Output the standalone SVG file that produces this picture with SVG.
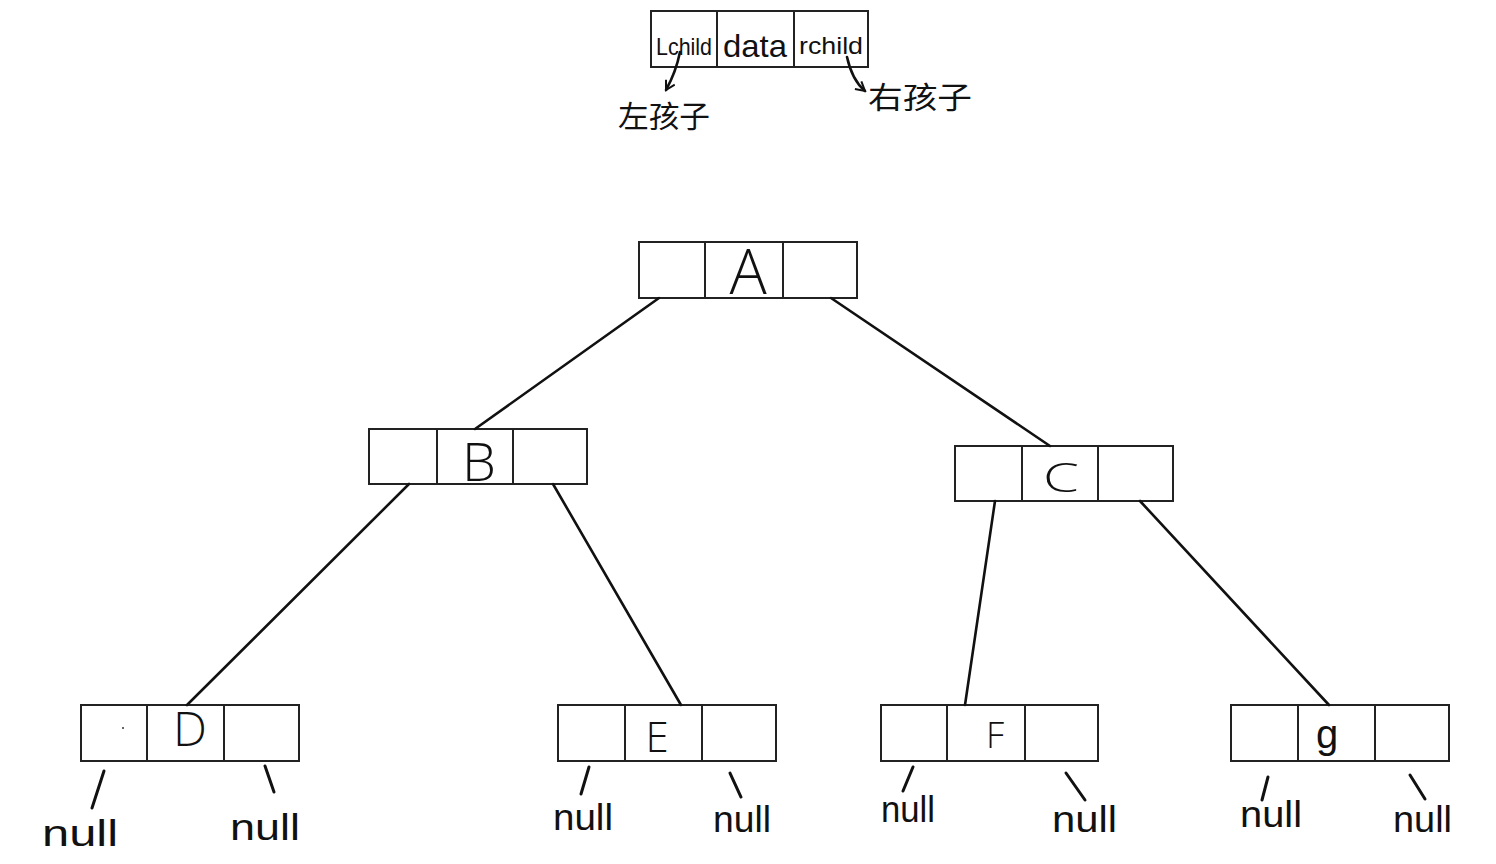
<svg xmlns="http://www.w3.org/2000/svg" width="1496" height="864" viewBox="0 0 1496 864">
<defs>
<style>
.box{fill:#fff;stroke:#222;stroke-width:2}
.div{stroke:#222;stroke-width:2}
.edge{stroke:#111;stroke-width:2.6;fill:none;stroke-linecap:round}
.stub{stroke:#111;stroke-width:3;fill:none;stroke-linecap:round}
.lbl{font-family:"Liberation Sans",sans-serif;fill:#111;text-anchor:middle}
.big{font-family:"Open Sans","Liberation Sans",sans-serif;font-weight:300;fill:#111;text-anchor:middle}
.nul{font-family:"Liberation Sans",sans-serif;fill:#111;font-size:36px}
.cn{font-family:"Noto Sans CJK SC",sans-serif;fill:#111;font-size:30px}
</style>
<marker id="ah" viewBox="0 0 12 12" refX="10" refY="6" markerWidth="12" markerHeight="12" markerUnits="userSpaceOnUse" orient="auto">
<path d="M1,1 L10,6 L1,11" fill="none" stroke="#111" stroke-width="2"/>
</marker>
</defs>
<rect width="1496" height="864" fill="#fff"/>

<g id="legend">
<rect class="box" x="651" y="11" width="217" height="56"/>
<line class="div" x1="717" y1="11" x2="717" y2="67"/>
<line class="div" x1="794" y1="11" x2="794" y2="67"/>
<text class="lbl" x="684" y="55" font-size="24" textLength="56" lengthAdjust="spacingAndGlyphs">Lchild</text>
<text class="lbl" x="755" y="57" font-size="32" textLength="64" lengthAdjust="spacingAndGlyphs">data</text>
<text class="lbl" x="831" y="54" font-size="24" textLength="64" lengthAdjust="spacingAndGlyphs">rchild</text>
<text class="cn" x="618" y="127" textLength="92" lengthAdjust="spacingAndGlyphs">左孩子</text>
<text class="cn" x="868" y="108" font-size="32" textLength="104" lengthAdjust="spacingAndGlyphs">右孩子</text>
</g>

<g id="A">
<rect class="box" x="639" y="242" width="218" height="56"/>
<line class="div" x1="705" y1="242" x2="705" y2="298"/>
<line class="div" x1="783" y1="242" x2="783" y2="298"/>
<text class="big" x="748" y="294" font-size="62">A</text>
</g>
<g id="B">
<rect class="box" x="369" y="429" width="218" height="55"/>
<line class="div" x1="437" y1="429" x2="437" y2="484"/>
<line class="div" x1="513" y1="429" x2="513" y2="484"/>
<text class="big" x="479" y="481" font-size="54">B</text>
</g>
<g id="C">
<rect class="box" x="955" y="446" width="218" height="55"/>
<line class="div" x1="1022" y1="446" x2="1022" y2="501"/>
<line class="div" x1="1098" y1="446" x2="1098" y2="501"/>
<text class="big" x="1061" y="492" font-size="40" textLength="36" lengthAdjust="spacingAndGlyphs">C</text>
</g>
<g id="D">
<rect class="box" x="81" y="705" width="218" height="56"/>
<line class="div" x1="147" y1="705" x2="147" y2="761"/>
<line class="div" x1="224" y1="705" x2="224" y2="761"/>
<circle cx="123" cy="728" r="1" fill="#333"/>
<text class="big" x="190" y="746" font-size="48">D</text>
</g>
<g id="E">
<rect class="box" x="558" y="705" width="218" height="56"/>
<line class="div" x1="625" y1="705" x2="625" y2="761"/>
<line class="div" x1="702" y1="705" x2="702" y2="761"/>
<text class="big" x="657" y="752" font-size="42">E</text>
</g>
<g id="F">
<rect class="box" x="881" y="705" width="217" height="56"/>
<line class="div" x1="947" y1="705" x2="947" y2="761"/>
<line class="div" x1="1025" y1="705" x2="1025" y2="761"/>
<text class="big" x="995" y="748" font-size="36">F</text>
</g>
<g id="G">
<rect class="box" x="1231" y="705" width="218" height="56"/>
<line class="div" x1="1298" y1="705" x2="1298" y2="761"/>
<line class="div" x1="1375" y1="705" x2="1375" y2="761"/>
<text class="lbl" x="1327" y="748" font-size="40">g</text>
</g>

<g id="nulls">
<text class="nul" x="42" y="846" textLength="76" lengthAdjust="spacingAndGlyphs">null</text>
<text class="nul" x="230" y="840" textLength="70" lengthAdjust="spacingAndGlyphs">null</text>
<text class="nul" x="553" y="830" textLength="60" lengthAdjust="spacingAndGlyphs">null</text>
<text class="nul" x="713" y="832" textLength="58" lengthAdjust="spacingAndGlyphs">null</text>
<text class="nul" x="881" y="822" textLength="54" lengthAdjust="spacingAndGlyphs">null</text>
<text class="nul" x="1052" y="832" textLength="65" lengthAdjust="spacingAndGlyphs">null</text>
<text class="nul" x="1240" y="827" textLength="62" lengthAdjust="spacingAndGlyphs">null</text>
<text class="nul" x="1393" y="832" textLength="59" lengthAdjust="spacingAndGlyphs">null</text>
</g>

<g id="connectors">
<line class="edge" x1="659" y1="298" x2="475" y2="429"/>
<line class="edge" x1="831" y1="298" x2="1050" y2="446"/>
<line class="edge" x1="409" y1="484" x2="187" y2="705"/>
<line class="edge" x1="553" y1="484" x2="681" y2="705"/>
<line class="edge" x1="995" y1="501" x2="965" y2="705"/>
<line class="edge" x1="1140" y1="501" x2="1329" y2="705"/>
<path class="edge" d="M680,52 Q676,72 666,90" marker-end="url(#ah)"/>
<path class="edge" d="M847,57 Q852,80 865,91" marker-end="url(#ah)"/>
<line class="stub" x1="104" y1="771" x2="92" y2="808"/>
<line class="stub" x1="265" y1="766" x2="274" y2="792"/>
<line class="stub" x1="589" y1="767" x2="581" y2="794"/>
<line class="stub" x1="730" y1="773" x2="741" y2="797"/>
<line class="stub" x1="913" y1="767" x2="903" y2="791"/>
<line class="stub" x1="1066" y1="773" x2="1085" y2="800"/>
<line class="stub" x1="1268" y1="777" x2="1262" y2="800"/>
<line class="stub" x1="1410" y1="775" x2="1425" y2="799"/>
</g>
</svg>
